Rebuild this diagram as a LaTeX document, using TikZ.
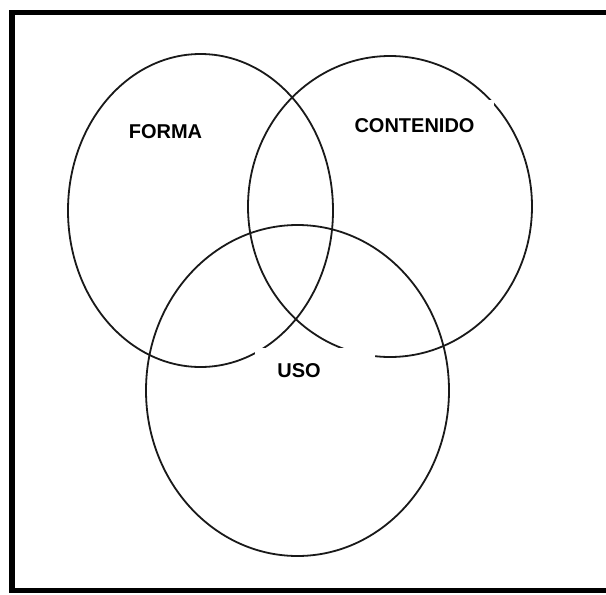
\documentclass[tikz,border=0pt]{standalone}
\usepackage{fontspec}
\setmainfont{Liberation Sans}
\begin{document}
\begin{tikzpicture}[x=1pt,y=-1pt,
  ring/.style={draw=black!90, line width=1.8pt},
  frame/.style={draw=black, line width=5.5pt, line join=miter},
  mask/.style={fill=white},
  lbl/.style={font=\fontsize{20}{24}\selectfont\bfseries, anchor=base, inner sep=0pt}]
\useasboundingbox[fill=white] (0,0) rectangle (606,595);
% frame (no right side)
\draw[frame] (606,12.5) -- (12,12.5) -- (12,590.5) -- (606,590.5);
% circles
\draw[ring] (200.5,210.5) ellipse [x radius=132.5, y radius=156.5];
\draw[ring] (390,206.5) ellipse [x radius=142, y radius=150.5];
\draw[ring] (297.5,390.5) ellipse [x radius=151.5, y radius=165.5];
% label backgrounds
\fill[mask] (108,105) rectangle (225,155);
\fill[mask] (340,100) rectangle (494,150);
\fill[mask] (255,348) rectangle (375,400);
% labels
\node[lbl] (forma) at (165.5,138) {FORMA};
\node[lbl] (contenido) at (414.5,132) {CONTENIDO};
\node[lbl] (uso) at (299,377) {USO};
\end{tikzpicture}
\end{document}
